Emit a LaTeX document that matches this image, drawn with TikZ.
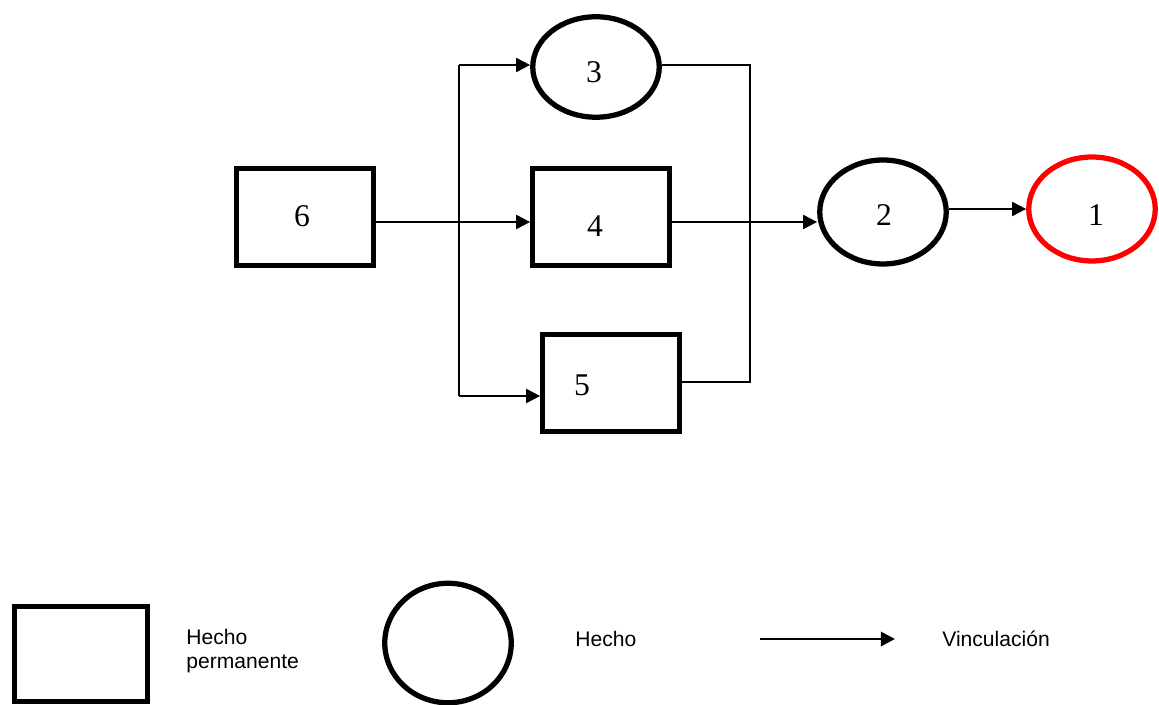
\documentclass[tikz,border=0pt]{standalone}
\usepackage{fontspec}
\setmainfont{Liberation Serif}
\setsansfont{Liberation Sans}
\usetikzlibrary{arrows.meta,shapes.geometric}
\begin{document}
\begin{tikzpicture}[x=0.02cm,y=-0.02cm,>={Triangle[length=8pt,width=8pt]},
    perm/.style={draw,line width=3pt,inner sep=0pt,minimum width=2.73cm,minimum height=1.93cm},
    hecho/.style={draw,ellipse,line width=3pt,inner sep=0pt,minimum width=2.53cm,minimum height=2.08cm},
    link/.style={->,line width=1.1pt},
    num/.style={font=\fontsize{18}{20}\selectfont},
    leyenda/.style={font=\sffamily\fontsize{12}{13.6}\selectfont,align=left,anchor=west,inner sep=0pt}]
\useasboundingbox (0,0) rectangle (1159,705);
\node[perm] (n6) at (305,217) {};
\node[hecho,minimum height=2.01cm] (n3) at (596,67) {};
\node[perm] (n4) at (601,217) {};
\node[perm] (n5) at (611,383) {};
\node[hecho] (n2) at (883,212) {};
\node[hecho,red] (n1) at (1092,209) {};
\foreach \n/\x/\y in {6/302/216,3/594/72,4/595/226,5/582/385,2/884/215,1/1096/215}
{
    \node[num] (d\n) at (\x,\y) {\n};
}
\coordinate (hub) at (459,222);
\coordinate (top) at (459,65);
\coordinate (bot) at (459,396);
\coordinate (join) at (750,382);
\draw[line width=1.1pt] (top) -- (bot);
\draw[link] (n6.east |- hub) -- (n4.west |- hub);
\draw[link] (top) -- (n3.west |- top);
\draw[link] (bot) -- (n5.west |- bot);
\draw[line width=1.1pt] (n3.east |- top) -| (join) -- (n5.east |- join);
\draw[link] (n4.east |- hub) -- (n2.west |- hub);
\draw[link] (n2.east |- n1.west) -- (n1.west);
% leyenda
\node[perm,minimum width=2.67cm,minimum height=1.91cm] (lperm) at (81,654) {};
\node[leyenda] (tperm) at (186,651) {Hecho\\permanente};
\node[hecho,minimum height=2.39cm] (lhecho) at (448,643) {};
\node[leyenda] (thecho) at (575,639) {Hecho};
\coordinate (la) at (760,639);
\coordinate (lb) at (895,639);
\draw[link,line width=1.6pt] (la) -- (lb);
\node[leyenda] (tlink) at (942,639) {Vinculación};
\end{tikzpicture}
\end{document}
